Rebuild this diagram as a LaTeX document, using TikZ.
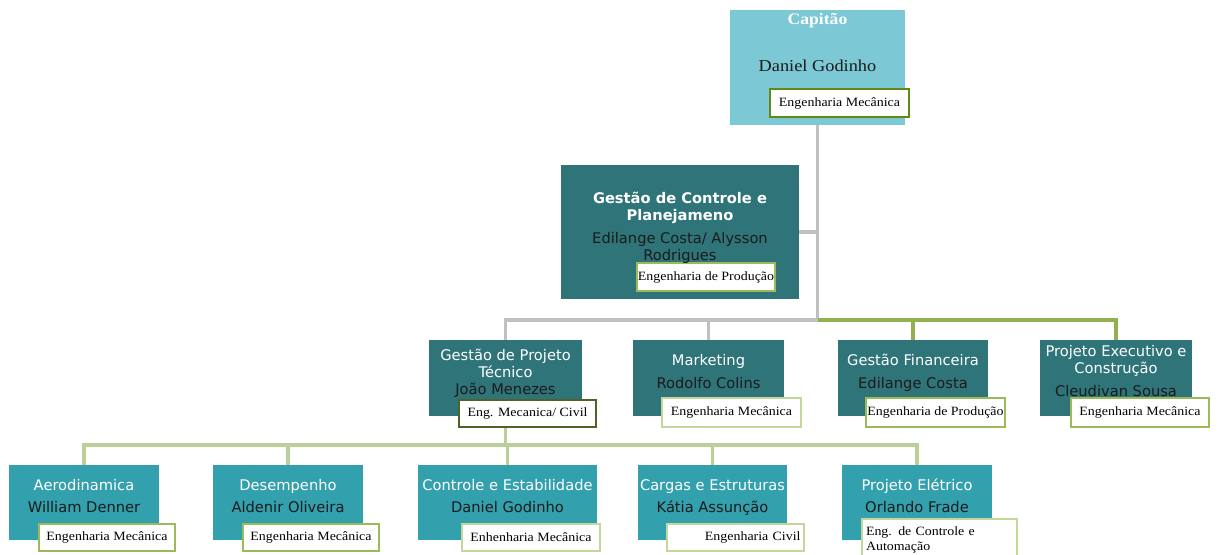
\documentclass[tikz,border=0pt]{standalone}
\usepackage{fontspec}
\setsansfont{DejaVu Sans}
\newfontfamily\labfont[FakeStretch=1.1]{Liberation Serif}
\usetikzlibrary{positioning}
\definecolor{capfill}{HTML}{7CC8D4}
\definecolor{darkteal}{HTML}{2F7479}
\definecolor{midteal}{HTML}{33A0AD}
\definecolor{nametext}{HTML}{1B1B1B}
\definecolor{linkgray}{HTML}{C0C0C0}
\definecolor{linkgreen}{HTML}{92B050}
\definecolor{linklight}{HTML}{BCCF98}
\definecolor{tagdeep}{HTML}{5E8C12}
\definecolor{tagolive}{HTML}{4F6228}
\definecolor{tagmid}{HTML}{9BBB59}
\definecolor{taglight}{HTML}{C3D69B}
\newcommand\lnstrut{\rule[-3.5pt]{0pt}{14.5pt}}

\begin{document}
\begin{tikzpicture}[x=0.75pt,y=-0.75pt,
  box/.style n args={3}{fill=#1,inner sep=0pt,minimum width=#2*0.75pt,minimum height=#3*0.75pt},
  tag/.style n args={3}{draw=#1,line width=2.2pt,fill=white,inner sep=0pt,
    minimum width=#2*0.75pt,minimum height=#3*0.75pt,font=\labfont\fontsize{9.5}{11}\selectfont},
  txt/.style={align=center,inner sep=0pt,yshift=-1.6pt,text=nametext,font=\sffamily\fontsize{11}{12.75}\selectfont,
    execute at begin node=\lnstrut,execute at end node=\lnstrut},
  link/.style={line width=2.3pt,draw=#1}]
  \useasboundingbox[fill=white] (0,0) rectangle (1221,554);

  % caixas (capitão, gestão, áreas)
  \node[box={capfill}{175}{115}] (cap) at (817.5,67.5) {};
  \node[box={darkteal}{238}{134}] (gcp) at (680,232) {};
  \node[box={darkteal}{153}{76}] (gpt) at (505.5,378) {};
  \node[box={darkteal}{151}{76}] (mkt) at (708.5,378) {};
  \node[box={darkteal}{150}{76}] (fin) at (913,378) {};
  \node[box={darkteal}{152}{76}] (pec) at (1116,378) {};
  \node[box={midteal}{150}{75}] (aero) at (84,502.5) {};
  \node[box={midteal}{150}{75}] (des) at (288,502.5) {};
  \node[box={midteal}{179}{75}] (ce) at (507.5,502.5) {};
  \node[box={midteal}{149}{75}] (cae) at (712.5,502.5) {};
  \node[box={midteal}{150}{75}] (pe) at (917,502.5) {};

  % ligações do capitão
  \coordinate (bus) at (817.5,320);
  \draw[link=linkgray] (cap.south) -- (bus);
  \draw[link=linkgray] (gcp.east) -- (gcp.east -| bus);
  \draw[link=linkgray] (bus) -| (gpt.north);
  \draw[link=linkgray] (mkt.north |- bus) -- (mkt.north);
  \draw[link=linkgreen] (bus) -| (pec.north);
  \draw[link=linkgreen] (fin.north |- bus) -- (fin.north);

  % ligações do projeto técnico
  \coordinate (bus2) at (505.5,445);
  \draw[link=linklight] (gpt.south) -- (bus2);
  \draw[link=linklight] (aero.north) |- (bus2) -| (pe.north);
  \foreach \n in {des,ce,cae}{\draw[link=linklight] (\n.north) -- (\n.north |- bus2);}

  % formações (etiquetas)
  \node[tag={tagdeep}{139}{28}] (captag) at (839.5,103) {Engenharia Mecânica};
  \node[tag={tagmid}{138}{28}] (gcptag) at (706,277) {Engenharia de Produção};
  \node[tag={tagolive}{137}{27}] (gpttag) at (527.5,413.5) {Eng. Mecanica/ Civil};
  \node[tag={taglight}{139}{29}] (mkttag) at (731.5,412.5) {Engenharia Mecânica};
  \node[tag={tagmid}{139}{29}] (fintag) at (935.5,412.5) {Engenharia de Produção};
  \node[tag={tagmid}{138}{29}] (pectag) at (1140,412.5) {Engenharia Mecânica};
  \node[tag={tagmid}{136}{27}] (aerotag) at (107,537.5) {Engenharia Mecânica};
  \node[tag={tagmid}{136}{27}] (destag) at (311,537.5) {Engenharia Mecânica};
  \node[tag={taglight}{138}{27}] (cetag) at (531,537.5) {Enhenharia Mecânica};
  \node[tag={taglight}{137}{27},text width=130*0.75pt,align=right] (caetag) at (735.5,537.5) {Engenharia Civil};
  \node[tag={taglight}{155}{42},text width=147*0.75pt,align=left] (petag) at (939.5,540) {Eng. de Controle e\\Automação};

  % textos
  \node[text=white,inner sep=0pt,font=\labfont\bfseries\fontsize{12}{14}\selectfont] (captitle) at (817.5,21) {Capitão};
  \node[text=nametext,inner sep=0pt,font=\labfont\fontsize{12.5}{14}\selectfont] (capname) at (817.5,66) {Daniel Godinho};
  \node[txt] (gcptxt) at (680,226.5) {\textcolor{white}{\textbf{Gestão de Controle e}}\\\textcolor{white}{\textbf{Planejameno}}\\[4.5pt]Edilange Costa/ Alysson\\Rodrigues};
  \node[txt] (gpttxt) at (505.5,372) {\textcolor{white}{Gestão de Projeto}\\\textcolor{white}{Técnico}\\João Menezes};
  \node[txt] (mkttxt) at (708.5,371.5) {\textcolor{white}{Marketing}\\[4.5pt]Rodolfo Colins};
  \node[txt] (fintxt) at (913,371.5) {\textcolor{white}{Gestão Financeira}\\[4.5pt]Edilange Costa};
  \node[txt] (pectxt) at (1116,371.5) {\textcolor{white}{Projeto Executivo e}\\\textcolor{white}{Construção}\\[4.5pt]Cleudivan Sousa};
  \node[txt] (aerotxt) at (84,496) {\textcolor{white}{Aerodinamica}\\[4pt]William Denner};
  \node[txt] (destxt) at (288,496) {\textcolor{white}{Desempenho}\\[4pt]Aldenir Oliveira};
  \node[txt] (cetxt) at (507.5,496) {\textcolor{white}{Controle e Estabilidade}\\[4pt]Daniel Godinho};
  \node[txt] (caetxt) at (712.5,496) {\textcolor{white}{Cargas e Estruturas}\\[4pt]Kátia Assunção};
  \node[txt] (petxt) at (917,496) {\textcolor{white}{Projeto Elétrico}\\[4pt]Orlando Frade};
\end{tikzpicture}
\end{document}
